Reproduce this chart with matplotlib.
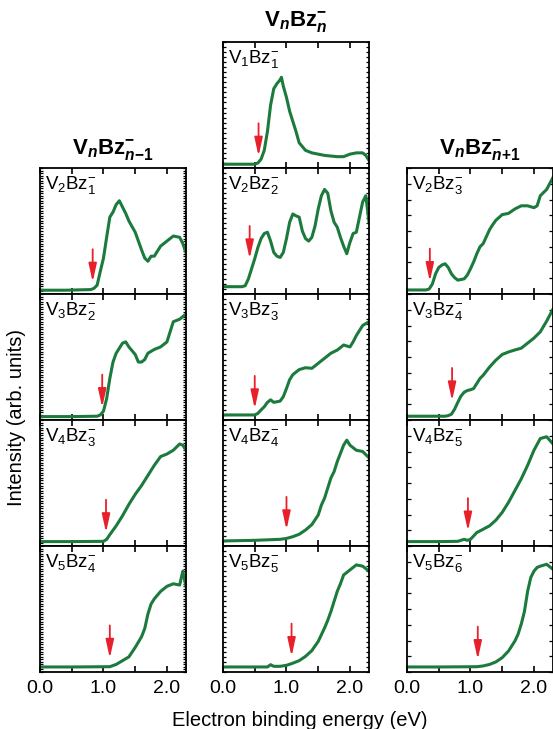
import numpy as np
import matplotlib
matplotlib.use('Agg')
import matplotlib.pyplot as plt

plt.rcParams['font.family'] = ['Liberation Sans', 'DejaVu Sans']
plt.rcParams['mathtext.fontset'] = 'custom'
plt.rcParams['mathtext.rm'] = 'Liberation Sans'
plt.rcParams['mathtext.it'] = 'Liberation Sans:italic'
plt.rcParams['mathtext.bf'] = 'Liberation Sans:bold'
plt.rcParams['mathtext.bfit'] = 'Liberation Sans:bold:italic'

# ---- spectra (energy in eV, intensity as fraction of panel height) ----
# V_n Bz_(n-1)^-
e_v2bz1 = [0, 0.4, 0.8, 0.85, 0.9, 0.95, 1.0, 1.05, 1.1, 1.15, 1.2, 1.25, 1.3, 1.35, 1.4,
           1.5, 1.6, 1.65, 1.7, 1.75, 1.8, 1.9, 2.0, 2.1, 2.2, 2.25, 2.3]
i_v2bz1 = [0.03, 0.03, 0.035, 0.045, 0.07, 0.18, 0.285, 0.45, 0.61, 0.65, 0.71, 0.74, 0.69, 0.64, 0.58,
           0.49, 0.35, 0.285, 0.26, 0.30, 0.30, 0.38, 0.42, 0.46, 0.45, 0.40, 0.33]
e_v3bz2 = [0, 0.5, 0.9, 0.95, 1.0, 1.05, 1.1, 1.15, 1.2, 1.25, 1.3, 1.35, 1.4, 1.5, 1.55,
           1.6, 1.65, 1.7, 1.8, 1.9, 2.0, 2.05, 2.1, 2.2, 2.3]
i_v3bz2 = [0.027, 0.027, 0.03, 0.04, 0.07, 0.17, 0.33, 0.46, 0.53, 0.57, 0.61, 0.62, 0.58, 0.52, 0.46,
           0.46, 0.48, 0.53, 0.56, 0.58, 0.62, 0.70, 0.78, 0.80, 0.84]
e_v4bz3 = [0, 0.5, 1.0, 1.05, 1.1, 1.2, 1.3, 1.4, 1.5, 1.6, 1.7, 1.8, 1.9, 2.0, 2.1, 2.2, 2.25, 2.3]
i_v4bz3 = [0.035, 0.035, 0.037, 0.053, 0.09, 0.16, 0.24, 0.33, 0.41, 0.48, 0.56, 0.64, 0.71, 0.73,
           0.76, 0.81, 0.80, 0.76]
e_v5bz4 = [0, 0.5, 1.1, 1.2, 1.3, 1.4, 1.5, 1.6, 1.65, 1.7, 1.75, 1.8, 1.9, 2.0, 2.1, 2.2, 2.25, 2.3]
i_v5bz4 = [0.04, 0.04, 0.042, 0.06, 0.09, 0.12, 0.195, 0.28, 0.345, 0.46, 0.54, 0.58, 0.64, 0.68,
           0.70, 0.69, 0.80, 0.68]

# V_n Bz_n^-
e_v1bz1 = [0, 0.5, 0.55, 0.6, 0.65, 0.7, 0.75, 0.8, 0.85, 0.9, 0.92, 0.95, 1.0, 1.05, 1.1, 1.15,
           1.2, 1.3, 1.4, 1.5, 1.6, 1.7, 1.8, 1.9, 2.0, 2.1, 2.2, 2.25, 2.3]
i_v1bz1 = [0.03, 0.03, 0.04, 0.07, 0.14, 0.29, 0.50, 0.63, 0.67, 0.70, 0.72, 0.65, 0.56, 0.45, 0.37,
           0.29, 0.20, 0.14, 0.12, 0.11, 0.10, 0.095, 0.09, 0.09, 0.11, 0.12, 0.12, 0.10, 0.06]
e_v2bz2 = [0, 0.3, 0.35, 0.4, 0.45, 0.5, 0.55, 0.6, 0.65, 0.7, 0.75, 0.8, 0.85, 0.9, 0.95, 1.0,
           1.05, 1.1, 1.15, 1.2, 1.25, 1.3, 1.35, 1.4, 1.45, 1.5, 1.55, 1.6, 1.65, 1.7, 1.75, 1.8,
           1.85, 1.9, 1.95, 2.0, 2.05, 2.1, 2.15, 2.2, 2.25, 2.3]
i_v2bz2 = [0.058, 0.058, 0.066, 0.12, 0.20, 0.28, 0.37, 0.44, 0.48, 0.49, 0.42, 0.33, 0.30, 0.29,
           0.33, 0.44, 0.57, 0.635, 0.62, 0.61, 0.50, 0.44, 0.42, 0.45, 0.54, 0.675, 0.78, 0.83,
           0.80, 0.66, 0.57, 0.53, 0.45, 0.38, 0.32, 0.41, 0.48, 0.49, 0.61, 0.73, 0.78, 0.57]
e_v3bz3 = [0, 0.5, 0.55, 0.6, 0.65, 0.7, 0.75, 0.8, 0.85, 0.9, 0.95, 1.0, 1.05, 1.1, 1.2, 1.3,
           1.4, 1.5, 1.6, 1.7, 1.8, 1.9, 2.0, 2.05, 2.1, 2.2, 2.3]
i_v3bz3 = [0.04, 0.04, 0.053, 0.08, 0.105, 0.14, 0.16, 0.14, 0.145, 0.15, 0.185, 0.25, 0.32, 0.36,
           0.40, 0.415, 0.41, 0.45, 0.49, 0.53, 0.555, 0.595, 0.58, 0.62, 0.67, 0.75, 0.78]
e_v4bz4 = [0, 0.5, 0.9, 1.0, 1.1, 1.2, 1.3, 1.4, 1.5, 1.55, 1.6, 1.65, 1.7, 1.75, 1.8, 1.85,
           1.9, 1.95, 2.0, 2.1, 2.2, 2.3]
i_v4bz4 = [0.04, 0.045, 0.053, 0.06, 0.074, 0.093, 0.127, 0.17, 0.246, 0.325, 0.38, 0.46, 0.54,
           0.59, 0.67, 0.735, 0.80, 0.84, 0.80, 0.76, 0.75, 0.70]
e_v5bz5 = [0, 0.7, 0.75, 0.8, 0.9, 1.0, 1.1, 1.2, 1.3, 1.4, 1.5, 1.55, 1.6, 1.65, 1.7, 1.75,
           1.8, 1.85, 1.9, 2.0, 2.1, 2.2, 2.3]
i_v5bz5 = [0.04, 0.04, 0.058, 0.045, 0.045, 0.053, 0.07, 0.09, 0.124, 0.17, 0.243, 0.296, 0.35,
           0.41, 0.48, 0.56, 0.64, 0.70, 0.77, 0.81, 0.85, 0.84, 0.80]

# V_n Bz_(n+1)^-
e_v2bz3 = [0, 0.3, 0.35, 0.4, 0.45, 0.5, 0.55, 0.6, 0.65, 0.7, 0.75, 0.8, 0.85, 0.9, 0.95, 1.0,
           1.05, 1.1, 1.15, 1.2, 1.25, 1.3, 1.35, 1.4, 1.5, 1.6, 1.7, 1.8, 1.9, 2.0, 2.05, 2.1,
           2.2, 2.3]
i_v2bz3 = [0.032, 0.032, 0.04, 0.08, 0.16, 0.21, 0.23, 0.24, 0.21, 0.16, 0.13, 0.11, 0.115, 0.12,
           0.15, 0.20, 0.255, 0.32, 0.375, 0.40, 0.455, 0.51, 0.55, 0.585, 0.63, 0.64, 0.675,
           0.70, 0.70, 0.685, 0.70, 0.78, 0.83, 0.925]
e_v3bz4 = [0, 0.6, 0.65, 0.7, 0.75, 0.8, 0.85, 0.9, 0.95, 1.0, 1.05, 1.1, 1.15, 1.2, 1.3, 1.4,
           1.5, 1.6, 1.7, 1.8, 1.9, 2.0, 2.1, 2.2, 2.3]
i_v3bz4 = [0.03, 0.03, 0.035, 0.046, 0.086, 0.14, 0.19, 0.22, 0.234, 0.24, 0.25, 0.29, 0.33, 0.355,
           0.42, 0.475, 0.52, 0.54, 0.556, 0.57, 0.61, 0.65, 0.70, 0.785, 0.88]
e_v4bz5 = [0, 0.5, 0.8, 0.85, 0.9, 0.95, 1.0, 1.05, 1.1, 1.2, 1.3, 1.4, 1.5, 1.6, 1.7, 1.8, 1.9,
           2.0, 2.1, 2.2, 2.3]
i_v4bz5 = [0.035, 0.035, 0.037, 0.045, 0.053, 0.045, 0.053, 0.08, 0.107, 0.133, 0.16, 0.205,
           0.267, 0.347, 0.44, 0.533, 0.64, 0.76, 0.853, 0.867, 0.81]
e_v5bz6 = [0, 0.5, 1.1, 1.2, 1.3, 1.4, 1.5, 1.6, 1.7, 1.75, 1.8, 1.85, 1.9, 1.95, 2.0, 2.05, 2.1,
           2.2, 2.3]
i_v5bz6 = [0.04, 0.04, 0.042, 0.048, 0.06, 0.08, 0.114, 0.167, 0.246, 0.30, 0.38, 0.48, 0.64, 0.75,
           0.80, 0.83, 0.84, 0.855, 0.815]

# labels and arrow positions (x, tip) per column
left_labels = [r'V$_2$Bz$_1^{-}$', r'V$_3$Bz$_2^{-}$', r'V$_4$Bz$_3^{-}$', r'V$_5$Bz$_4^{-}$']
mid_labels = [r'V$_1$Bz$_1^{-}$', r'V$_2$Bz$_2^{-}$', r'V$_3$Bz$_3^{-}$', r'V$_4$Bz$_4^{-}$',
              r'V$_5$Bz$_5^{-}$']
right_labels = [r'V$_2$Bz$_3^{-}$', r'V$_3$Bz$_4^{-}$', r'V$_4$Bz$_5^{-}$', r'V$_5$Bz$_6^{-}$']

left_arrow_x = [0.83, 0.98, 1.04, 1.10]
left_arrow_tip = [0.095, 0.10, 0.107, 0.11]
mid_arrow_x = [0.56, 0.42, 0.50, 1.00, 1.08]
mid_arrow_tip = [0.095, 0.28, 0.09, 0.13, 0.124]
right_arrow_x = [0.36, 0.71, 0.96, 1.115]
right_arrow_tip = [0.10, 0.153, 0.12, 0.10]
arrow_len = 0.26

left_spectra = [(e_v2bz1, i_v2bz1), (e_v3bz2, i_v3bz2), (e_v4bz3, i_v4bz3), (e_v5bz4, i_v5bz4)]
mid_spectra = [(e_v1bz1, i_v1bz1), (e_v2bz2, i_v2bz2), (e_v3bz3, i_v3bz3), (e_v4bz4, i_v4bz4),
               (e_v5bz5, i_v5bz5)]
right_spectra = [(e_v2bz3, i_v2bz3), (e_v3bz4, i_v3bz4), (e_v4bz5, i_v4bz5), (e_v5bz6, i_v5bz6)]

green = '#1b7a3c'
red = '#e8202a'

W, H = 553, 729
fig = plt.figure(figsize=(W / 100, H / 100), dpi=100)

panel_w = 146
panel_h = 126
top0 = 42


def make_panel(x0, row, spec, label, ax_x, tip, ytick_step, ytick_len, bottom):
    top = top0 + row * panel_h
    ax = fig.add_axes([x0 / W, 1 - (top + panel_h) / H, panel_w / W, panel_h / H])
    ax.plot(spec[0], spec[1], color=green, lw=2.2, solid_joinstyle='round')
    ax.set_xlim(0, 2.3)
    ax.set_ylim(0, 1)
    ax.annotate('', xy=(ax_x, tip), xytext=(ax_x, tip + arrow_len),
                arrowprops=dict(arrowstyle='-|>,head_length=1.0,head_width=0.22',
                                color=red, lw=1.3, mutation_scale=11, shrinkA=0, shrinkB=0))
    ax.text(0.035, 0.955, label, transform=ax.transAxes, ha='left', va='top', fontsize=13.5)
    ax.set_xticks([0, 1, 2])
    ax.set_xticks([0.5, 1.5], minor=True)
    ax.set_yticks(np.arange(0, 1.0001, ytick_step))
    ax.set_yticklabels([])
    ax.tick_params(axis='x', which='both', direction='in', top=True, bottom=True,
                   length=4.5, width=1.2, labelsize=14, pad=6)
    ax.tick_params(axis='y', direction='in', left=True, right=True, length=ytick_len, width=0.9)
    if bottom:
        ax.set_xticklabels(['0.0', '1.0', '2.0'])
    else:
        ax.set_xticklabels([])
    for s in ax.spines.values():
        s.set_linewidth(1.3)
    return ax


for r in range(4):
    make_panel(40, r + 1, left_spectra[r], left_labels[r], left_arrow_x[r], left_arrow_tip[r],
               0.02, 2, r == 3)
for r in range(5):
    make_panel(223, r, mid_spectra[r], mid_labels[r], mid_arrow_x[r], mid_arrow_tip[r],
               0.04, 2, r == 4)
for r in range(4):
    make_panel(407, r + 1, right_spectra[r], right_labels[r], right_arrow_x[r], right_arrow_tip[r],
               0.125, 3, r == 3)

# column titles
fig.text((223 + panel_w / 2) / W, 1 - 21 / H,
         r'$\mathbf{V}_{\mathbfit{n}}\mathbf{Bz}_{\mathbfit{n}}^{\mathbf{-}}$',
         ha='center', va='center', fontsize=16)
fig.text((40 + panel_w / 2) / W, 1 - 149 / H,
         r'$\mathbf{V}_{\mathbfit{n}}\mathbf{Bz}_{\mathbfit{n}\mathbf{-1}}^{\mathbf{-}}$',
         ha='center', va='center', fontsize=16)
fig.text((407 + panel_w / 2) / W, 1 - 149 / H,
         r'$\mathbf{V}_{\mathbfit{n}}\mathbf{Bz}_{\mathbfit{n}\mathbf{+1}}^{\mathbf{-}}$',
         ha='center', va='center', fontsize=16)

fig.text(17 / W, 1 - 418 / H, 'Intensity (arb. units)', rotation=90, ha='center', va='center',
         fontsize=14.5)
fig.text(300 / W, 1 - 721 / H, 'Electron binding energy (eV)', ha='center', va='center',
         fontsize=14.5)

fig.savefig('out.png', dpi=100)
